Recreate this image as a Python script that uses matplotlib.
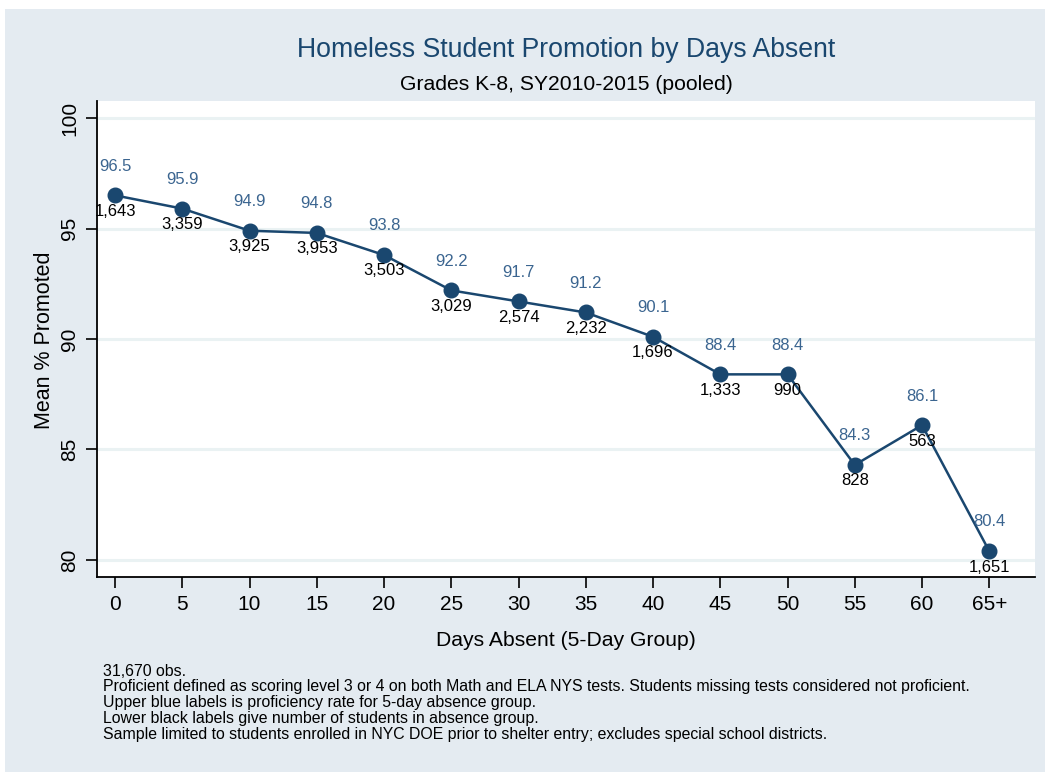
import matplotlib
matplotlib.use("Agg")
import matplotlib.pyplot as plt
from matplotlib.patches import Rectangle

# ---- data ----
days = [0, 5, 10, 15, 20, 25, 30, 35, 40, 45, 50, 55, 60, 65]
tick_labels = ["0", "5", "10", "15", "20", "25", "30", "35", "40", "45", "50", "55", "60", "65+"]
pct_promoted = [96.5, 95.9, 94.9, 94.8, 93.8, 92.2, 91.7, 91.2, 90.1, 88.4, 88.4, 84.3, 86.1, 80.4]
n_students = [1643, 3359, 3925, 3953, 3503, 3029, 2574, 2232, 1696, 1333, 990, 828, 563, 1651]
y_ticks = [80, 85, 90, 95, 100]

title = "Homeless Student Promotion by Days Absent"
subtitle = "Grades K-8, SY2010-2015 (pooled)"
xlabel = "Days Absent (5-Day Group)"
ylabel = "Mean % Promoted"
notes = ["31,670 obs.",
         "Proficient defined as scoring level 3 or 4 on both Math and ELA NYS tests. Students missing tests considered not proficient.",
         "Upper blue labels is proficiency rate for 5-day absence group.",
         "Lower black labels give number of students in absence group.",
         "Sample limited to students enrolled in NYC DOE prior to shelter entry; excludes special school districts."]

plt.rcParams['font.family'] = ['Liberation Sans', 'DejaVu Sans']

W, H = 1045, 772
fig = plt.figure(figsize=(W / 100, H / 100), dpi=100, facecolor="white")
BG = "#e4ebf1"
fig.patches.append(Rectangle((5 / W, 0), 1 - 5 / W, 1 - 9 / H, transform=fig.transFigure,
                             facecolor=BG, edgecolor="none", zorder=-10))

NAVY = "#1a476f"
LBLUE = "#3b6590"

ax = fig.add_axes([97 / W, (H - 577) / H, (1035 - 97) / W, (577 - 101) / H])
ax.set_facecolor("white")
ax.plot(days, pct_promoted, color=NAVY, lw=1.8, marker="o", ms=10.5,
        markerfacecolor=NAVY, markeredgecolor=NAVY, zorder=3)

for x, v, n in zip(days, pct_promoted, n_students):
    ax.annotate(f"{v:.1f}", (x, v), xytext=(0, 21), textcoords="offset points",
                ha="center", va="center", color=LBLUE, fontsize=12, zorder=4)
    ax.annotate(f"{n:,}", (x, v), xytext=(0, -11.5), textcoords="offset points",
                ha="center", va="center", color="black", fontsize=12, zorder=4)

ax.set_xlim(-1.34, 68.4)
ax.set_ylim(79.23, 100.77)
ax.set_xticks(days)
ax.set_xticklabels(tick_labels)
ax.set_yticks(y_ticks)
ax.set_yticklabels([str(t) for t in y_ticks], rotation=90, va="center")
ax.tick_params(axis="both", direction="out", length=8, width=1.2, labelsize=15,
               colors="black", pad=5)
ax.grid(axis="y", color="#eaf2f3", lw=2.2, zorder=0)
ax.set_axisbelow(True)
for s in ["top", "right"]:
    ax.spines[s].set_visible(False)
for s in ["left", "bottom"]:
    ax.spines[s].set_linewidth(1.3)
    ax.spines[s].set_color("black")

fig.text(566 / W, 1 - 50 / H, title, ha="center", va="center", color=NAVY, fontsize=19.2)
fig.text(566 / W, 1 - 85 / H, subtitle, ha="center", va="center", color="black", fontsize=15.2)
fig.text(566 / W, 1 - 640 / H, xlabel, ha="center", va="center", color="black", fontsize=15.2)
fig.text(45 / W, 1 - 340 / H, ylabel, ha="center", va="center", rotation=90, color="black", fontsize=15.5)
for i, line in enumerate(notes):
    fig.text(103 / W, 1 - (671 + i * 16) / H, line, ha="left", va="center", color="black", fontsize=11.4)

fig.savefig("out.png", dpi=100, facecolor=fig.get_facecolor())
